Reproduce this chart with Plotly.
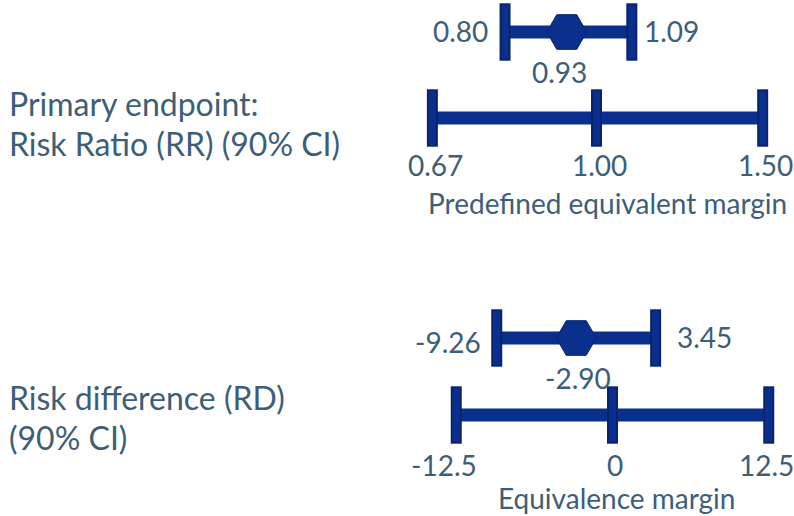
import math
import plotly.graph_objects as go

# ---------------- data ----------------
rr_point = 0.93
rr_ci = [0.80, 1.09]
rr_point_label = "0.93"
rr_ci_labels = ["0.80", "1.09"]
rr_margin = [0.67, 1.00, 1.50]
rr_margin_labels = ["0.67", "1.00", "1.50"]
rr_axis_title = "Predefined equivalent margin"

rd_point = -2.90
rd_ci = [-9.26, 3.45]
rd_point_label = "-2.90"
rd_ci_labels = ["-9.26", "3.45"]
rd_margin = [-12.5, 0.0, 12.5]
rd_margin_labels = ["-12.5", "0", "12.5"]
rd_axis_title = "Equivalence margin"

rr_row_label = ["Primary endpoint:", "Risk Ratio (RR) (90% CI)"]
rd_row_label = ["Risk difference (RD)", "(90% CI)"]

# ---------------- style ----------------
BAR = "#0b2f8c"
BAR_EDGE = "#08246e"
TXT = "#3d5e78"
FONT = "Lato"
FS_NUM = 28
FS_LAB = 32

W, H = 794, 516
CI_ROW, MARGIN_ROW = 1, 0

fig = go.Figure()


def add_panel(xa, ya, ci, point, margin):
    fig.add_trace(go.Scatter(x=ci, y=[CI_ROW] * len(ci), mode="lines",
                             line=dict(color=BAR, width=13),
                             xaxis=xa, yaxis=ya, hoverinfo="skip"))
    fig.add_trace(go.Scatter(x=[margin[0], margin[-1]], y=[MARGIN_ROW] * 2, mode="lines",
                             line=dict(color=BAR, width=13),
                             xaxis=xa, yaxis=ya, hoverinfo="skip"))
    cx = list(ci) + list(margin)
    cy = [CI_ROW] * len(ci) + [MARGIN_ROW] * len(margin)
    for col, w, s in ((BAR_EDGE, 11, 41), (BAR, 7, 38)):
        fig.add_trace(go.Scatter(x=cx, y=cy, mode="markers",
                                 marker=dict(symbol="line-ns", size=s, color=col,
                                             line=dict(color=col, width=w)),
                                 xaxis=xa, yaxis=ya, hoverinfo="skip"))
    fig.add_trace(go.Scatter(x=[point], y=[CI_ROW], mode="markers",
                             marker=dict(symbol="hexagon2", size=40, color=BAR,
                                         line=dict(color=BAR_EDGE, width=1)),
                             xaxis=xa, yaxis=ya, hoverinfo="skip"))


add_panel("x", "y", rr_ci, rr_point, rr_margin)
add_panel("x2", "y2", rd_ci, rd_point, rd_margin)

ann = []
fnum = dict(family=FONT, size=FS_NUM, color=TXT)
flab = dict(family=FONT, size=FS_LAB, color=TXT)


def A(font=fnum, **kw):
    d = dict(showarrow=False, font=font)
    d.update(kw)
    ann.append(d)


def lg(v):
    return math.log10(v)


# top panel (log axis -> annotation x in log10 units)
A(x=lg(rr_ci[0]), y=CI_ROW, xref="x", yref="y", text=rr_ci_labels[0],
  xanchor="right", yanchor="middle", xshift=-15, yshift=1)
A(x=lg(rr_ci[1]), y=CI_ROW, xref="x", yref="y", text=rr_ci_labels[1],
  xanchor="left", yanchor="middle", xshift=10, yshift=1)
A(x=lg(rr_point), y=CI_ROW, xref="x", yref="y", text=rr_point_label,
  xanchor="center", yanchor="middle", xshift=-7, yshift=-40)
for v, t in zip(rr_margin, rr_margin_labels):
    A(x=lg(v), y=MARGIN_ROW, xref="x", yref="y", text=t,
      xanchor="center", yanchor="middle", yshift=-47, xshift=3)
A(x=(lg(rr_margin[0]) + lg(rr_margin[-1])) / 2, y=MARGIN_ROW, xref="x", yref="y",
  text=rr_axis_title, xanchor="center", yanchor="middle", yshift=-85, xshift=10)

# bottom panel
A(x=rd_ci[0], y=CI_ROW, xref="x2", yref="y2", text=rd_ci_labels[0],
  xanchor="right", yanchor="middle", xshift=-14, yshift=-4)
A(x=rd_ci[1], y=CI_ROW, xref="x2", yref="y2", text=rd_ci_labels[1],
  xanchor="left", yanchor="middle", xshift=19, yshift=1)
A(x=rd_point, y=CI_ROW, xref="x2", yref="y2", text=rd_point_label,
  xanchor="center", yanchor="middle", xshift=2, yshift=-40)
rd_label_shift = [-12, 2, -2]
for v, t, s in zip(rd_margin, rd_margin_labels, rd_label_shift):
    A(x=v, y=MARGIN_ROW, xref="x2", yref="y2", text=t,
      xanchor="center", yanchor="middle", yshift=-50, xshift=s)
A(x=(rd_margin[0] + rd_margin[-1]) / 2, y=MARGIN_ROW, xref="x2", yref="y2",
  text=rd_axis_title, xanchor="center", yanchor="middle", yshift=-83, xshift=4)

# row labels
for i, t in enumerate(rr_row_label):
    A(font=flab, x=0, y=1 - (103 + 40 * i) / H, xref="paper", yref="paper", text=t,
      xanchor="left", yanchor="middle", xshift=7)
for i, t in enumerate(rd_row_label):
    A(font=flab, x=0, y=1 - (397 + 40 * i) / H, xref="paper", yref="paper", text=t,
      xanchor="left", yanchor="middle", xshift=7)

hidden = dict(visible=False, showgrid=False, zeroline=False, fixedrange=True)

# pixel mapping inside the figure: top log axis px = a + b*log10(v); bottom px = a + b*v
top_a, top_b = 596.5, 943.7
bot_a, bot_b = 612.5, 12.5

fig.update_layout(
    width=W, height=H,
    margin=dict(l=0, r=0, t=0, b=0),
    paper_bgcolor="white", plot_bgcolor="white",
    showlegend=False,
    hovermode=False,
    font=fnum,
    annotations=ann,
    xaxis=dict(type="log", domain=[0, 1], anchor="y",
               range=[(0 - top_a) / top_b, (W - top_a) / top_b], **hidden),
    yaxis=dict(domain=[0.5, 1], anchor="x",
               range=[MARGIN_ROW - (258 - 118) / 86, CI_ROW + 32 / 86], **hidden),
    xaxis2=dict(domain=[0, 1], anchor="y2",
                range=[(0 - bot_a) / bot_b, (W - bot_a) / bot_b], **hidden),
    yaxis2=dict(domain=[0, 0.5], anchor="x2",
                range=[MARGIN_ROW - (516 - 415) / 77, CI_ROW + (338 - 258) / 77], **hidden),
)

fig.write_html("out.html",
               config={"displayModeBar": False, "staticPlot": True},
               post_script="document.body.style.margin='0px';"
                           "document.body.style.overflow='hidden';")
